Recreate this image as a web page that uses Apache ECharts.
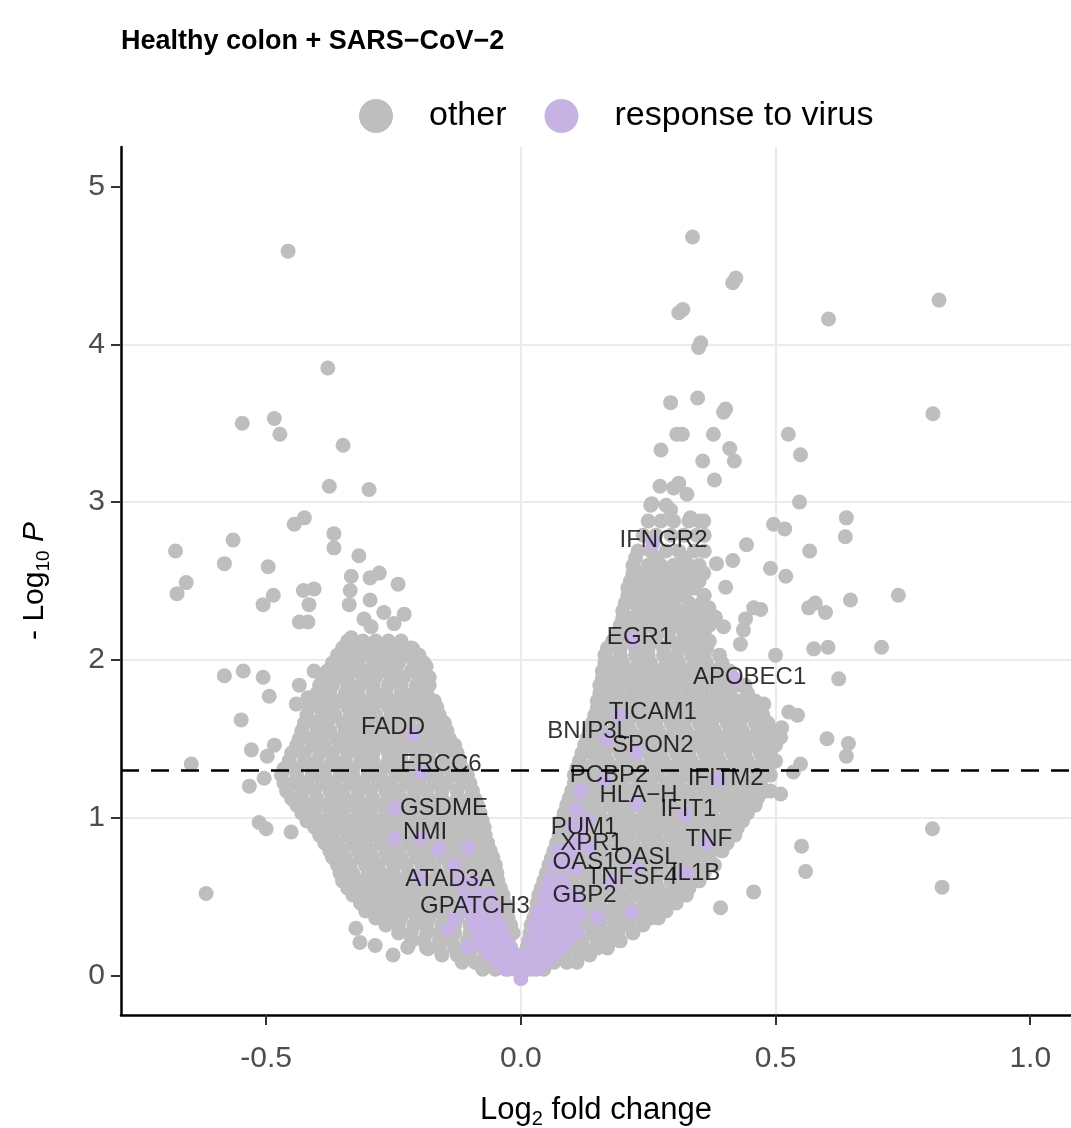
<!DOCTYPE html>
<html><head><meta charset="utf-8">
<script src="https://cdn.jsdelivr.net/npm/echarts@6/dist/echarts.min.js"></script>
<style>html,body{margin:0;padding:0;background:#fff}#c{width:1071px;height:1128px}</style>
</head><body><div id="c"></div>
<script>
// ---- data ----
const xTicks = [-0.5, 0, 0.5, 1.0];
const yTicks = [0, 1, 2, 3, 4, 5];
const pThreshold = 1.3;

// "other" genes: scattered points
const otherOutliers = [
 [-0.457,4.59],[-0.379,3.85],[-0.547,3.50],[-0.484,3.53],[-0.473,3.43],[-0.349,3.36],[-0.376,3.10],[-0.298,3.08],
 [-0.445,2.86],[-0.425,2.90],[-0.678,2.69],[-0.565,2.76],[-0.367,2.80],[-0.367,2.71],[-0.582,2.61],[-0.496,2.59],
 [-0.318,2.66],[-0.333,2.53],[-0.296,2.52],[-0.278,2.55],[-0.241,2.48],[-0.657,2.49],[-0.675,2.42],[-0.486,2.41],
 [-0.506,2.35],[-0.427,2.44],[-0.406,2.45],[-0.416,2.35],[-0.335,2.44],[-0.337,2.35],[-0.296,2.38],[-0.435,2.24],
 [-0.418,2.24],[-0.308,2.26],[-0.294,2.21],[-0.269,2.30],[-0.229,2.29],[-0.249,2.23],[-0.333,2.14],[-0.212,2.07],
 [-0.245,2.02],[-0.186,1.96],[-0.359,2.02],[-0.406,1.93],[-0.361,1.89],[-0.582,1.90],[-0.545,1.93],[-0.506,1.89],
 [-0.494,1.77],[-0.435,1.84],[-0.418,1.76],[-0.441,1.72],[-0.373,1.72],[-0.549,1.62],[-0.529,1.43],[-0.484,1.46],
 [-0.498,1.39],[-0.647,1.34],[-0.533,1.20],[-0.504,1.25],[-0.514,0.97],[-0.500,0.93],[-0.451,0.91],[-0.618,0.52],
 [-0.314,0.48],[-0.284,0.42],[-0.324,0.30],[-0.316,0.21],[-0.286,0.19],[-0.251,0.13],[-0.222,0.18],[-0.182,0.17],
 [0.337,4.68],[0.422,4.42],[0.416,4.39],[0.310,4.20],[0.318,4.22],[0.353,4.01],[0.349,3.98],[0.604,4.16],
 [0.821,4.28],[0.809,3.56],[0.294,3.63],[0.347,3.66],[0.402,3.59],[0.398,3.57],[0.306,3.43],[0.317,3.43],
 [0.378,3.43],[0.525,3.43],[0.275,3.33],[0.410,3.34],[0.419,3.26],[0.357,3.26],[0.549,3.30],[0.380,3.14],
 [0.273,3.10],[0.310,3.12],[0.326,3.05],[0.300,3.09],[0.547,3.00],[0.257,2.99],[0.294,2.95],[0.333,2.90],
 [0.359,2.88],[0.639,2.90],[0.637,2.78],[0.496,2.86],[0.518,2.83],[0.567,2.69],[0.443,2.73],[0.384,2.61],
 [0.416,2.63],[0.359,2.55],[0.490,2.58],[0.520,2.53],[0.741,2.41],[0.402,2.46],[0.647,2.38],[0.565,2.33],
 [0.578,2.36],[0.598,2.30],[0.457,2.33],[0.471,2.32],[0.369,2.33],[0.382,2.27],[0.398,2.21],[0.441,2.26],
 [0.437,2.19],[0.431,2.10],[0.575,2.07],[0.603,2.08],[0.500,2.03],[0.708,2.08],[0.624,1.88],[0.477,1.72],
 [0.526,1.67],[0.543,1.65],[0.512,1.57],[0.510,1.51],[0.601,1.50],[0.643,1.47],[0.639,1.39],[0.549,1.34],
 [0.535,1.29],[0.510,1.15],[0.490,1.17],[0.808,0.93],[0.551,0.82],[0.559,0.66],[0.827,0.56],[0.457,0.53],
 [0.392,0.43],[0.347,2.19],[0.327,2.10],[0.359,2.08]
];

// "other" genes: dense left arm, rows of [-log10 p, [log2 fc values]]
const otherLeftRows = [
 [2.12,[-0.34,-0.31,-0.285,-0.26,-0.235]],
 [2.075,[-0.35,-0.32,-0.295,-0.27,-0.245,-0.215]],
 [2.03,[-0.36,-0.335,-0.31,-0.28,-0.255,-0.23,-0.2]],
 [1.98,[-0.37,-0.345,-0.32,-0.29,-0.265,-0.24,-0.21,-0.19]],
 [1.93,[-0.38,-0.355,-0.325,-0.3,-0.27,-0.245,-0.215,-0.19]],
 [1.89,[-0.39,-0.365,-0.34,-0.31,-0.285,-0.255,-0.23,-0.2,-0.18]],
 [1.84,[-0.395,-0.37,-0.34,-0.315,-0.29,-0.26,-0.235,-0.205,-0.18]],
 [1.79,[-0.4,-0.375,-0.345,-0.32,-0.29,-0.265,-0.235,-0.21,-0.185]],
 [1.74,[-0.41,-0.385,-0.355,-0.33,-0.3,-0.275,-0.25,-0.22,-0.195,-0.17]],
 [1.70,[-0.415,-0.395,-0.37,-0.34,-0.315,-0.29,-0.26,-0.235,-0.21,-0.18,-0.165]],
 [1.65,[-0.42,-0.39,-0.365,-0.335,-0.31,-0.285,-0.255,-0.23,-0.2,-0.175,-0.16]],
 [1.60,[-0.425,-0.405,-0.38,-0.35,-0.325,-0.3,-0.27,-0.245,-0.22,-0.19,-0.17,-0.15]],
 [1.55,[-0.43,-0.4,-0.375,-0.345,-0.32,-0.29,-0.265,-0.24,-0.21,-0.185,-0.16,-0.145]],
 [1.50,[-0.435,-0.415,-0.39,-0.36,-0.335,-0.31,-0.28,-0.255,-0.23,-0.2,-0.175,-0.15,-0.14]],
 [1.46,[-0.44,-0.41,-0.385,-0.355,-0.33,-0.3,-0.275,-0.245,-0.22,-0.19,-0.165,-0.13]],
 [1.41,[-0.45,-0.425,-0.395,-0.37,-0.34,-0.315,-0.29,-0.26,-0.235,-0.205,-0.18,-0.15,-0.125]],
 [1.36,[-0.455,-0.425,-0.4,-0.37,-0.345,-0.315,-0.29,-0.26,-0.235,-0.205,-0.18,-0.15,-0.12]],
 [1.31,[-0.465,-0.44,-0.41,-0.385,-0.355,-0.33,-0.3,-0.275,-0.25,-0.22,-0.195,-0.165,-0.14,-0.115]],
 [1.27,[-0.47,-0.44,-0.41,-0.385,-0.355,-0.33,-0.3,-0.275,-0.245,-0.22,-0.19,-0.165,-0.135,-0.105]],
 [1.22,[-0.465,-0.445,-0.42,-0.39,-0.365,-0.335,-0.31,-0.28,-0.255,-0.225,-0.2,-0.17,-0.145,-0.115,-0.1]],
 [1.17,[-0.46,-0.43,-0.405,-0.375,-0.35,-0.32,-0.295,-0.265,-0.24,-0.21,-0.185,-0.155,-0.125,-0.095]],
 [1.12,[-0.45,-0.43,-0.4,-0.37,-0.345,-0.32,-0.29,-0.26,-0.235,-0.21,-0.18,-0.155,-0.125,-0.1,-0.09]],
 [1.08,[-0.44,-0.415,-0.385,-0.36,-0.33,-0.305,-0.275,-0.25,-0.22,-0.195,-0.165,-0.14,-0.11,-0.085]],
 [1.03,[-0.43,-0.405,-0.375,-0.35,-0.32,-0.295,-0.265,-0.24,-0.21,-0.185,-0.155,-0.13,-0.105,-0.08]],
 [0.98,[-0.42,-0.395,-0.365,-0.34,-0.31,-0.285,-0.255,-0.23,-0.2,-0.175,-0.145,-0.12,-0.095,-0.076]],
 [0.94,[-0.405,-0.38,-0.355,-0.325,-0.3,-0.27,-0.245,-0.215,-0.19,-0.16,-0.135,-0.11,-0.085,-0.072]],
 [0.89,[-0.395,-0.37,-0.34,-0.315,-0.285,-0.26,-0.235,-0.205,-0.18,-0.15,-0.125,-0.1,-0.07]],
 [0.84,[-0.385,-0.36,-0.33,-0.305,-0.275,-0.25,-0.22,-0.195,-0.17,-0.14,-0.115,-0.09,-0.065]],
 [0.79,[-0.375,-0.35,-0.32,-0.295,-0.265,-0.24,-0.21,-0.185,-0.155,-0.13,-0.105,-0.08,-0.06]],
 [0.75,[-0.37,-0.345,-0.315,-0.29,-0.26,-0.235,-0.205,-0.18,-0.15,-0.125,-0.1,-0.075,-0.055]],
 [0.70,[-0.36,-0.335,-0.305,-0.28,-0.25,-0.225,-0.195,-0.17,-0.14,-0.115,-0.09,-0.065,-0.05]],
 [0.65,[-0.355,-0.33,-0.3,-0.275,-0.25,-0.22,-0.195,-0.165,-0.14,-0.115,-0.085,-0.06,-0.047]],
 [0.60,[-0.35,-0.32,-0.295,-0.265,-0.24,-0.21,-0.185,-0.155,-0.13,-0.1,-0.075,-0.045]],
 [0.555,[-0.34,-0.31,-0.285,-0.255,-0.23,-0.2,-0.175,-0.145,-0.12,-0.09,-0.065,-0.04]],
 [0.51,[-0.33,-0.3,-0.275,-0.245,-0.22,-0.19,-0.165,-0.135,-0.11,-0.08,-0.055,-0.035]],
 [0.46,[-0.315,-0.29,-0.26,-0.235,-0.205,-0.18,-0.15,-0.125,-0.095,-0.07,-0.045,-0.032]],
 [0.41,[-0.305,-0.275,-0.25,-0.22,-0.195,-0.165,-0.14,-0.11,-0.085,-0.055,-0.03]],
 [0.365,[-0.285,-0.26,-0.235,-0.205,-0.18,-0.15,-0.125,-0.09,-0.06,-0.035,-0.025]],
 [0.32,[-0.265,-0.24,-0.21,-0.185,-0.155,-0.13,-0.1,-0.075,-0.045,-0.02]],
 [0.27,[-0.24,-0.215,-0.185,-0.16,-0.13,-0.1,-0.065,-0.04,-0.015]],
 [0.22,[-0.215,-0.19,-0.16,-0.135,-0.105,-0.08,-0.05,-0.025]],
 [0.175,[-0.185,-0.16,-0.13,-0.1,-0.075,-0.045,-0.02]],
 [0.13,[-0.155,-0.125,-0.1,-0.07,-0.045,-0.015]],
 [0.085,[-0.115,-0.09,-0.06,-0.035,-0.01]],
 [0.04,[-0.075,-0.05,-0.025]]
];

// "other" genes: dense right arm
const otherRightRows = [
 [2.98,[0.255,0.285]],
 [2.88,[0.25,0.275,0.3,0.33,0.35]],
 [2.79,[0.24,0.265,0.295,0.32,0.345,0.36]],
 [2.69,[0.23,0.255,0.285,0.31,0.34,0.36]],
 [2.645,[0.225,0.265,0.32]],
 [2.60,[0.22,0.25,0.275,0.3,0.33,0.35]],
 [2.55,[0.22,0.235,0.26,0.29,0.315,0.34]],
 [2.50,[0.215,0.245,0.27,0.3,0.325,0.35]],
 [2.455,[0.21,0.23,0.255,0.285,0.31,0.34]],
 [2.41,[0.21,0.24,0.265,0.29,0.32,0.36]],
 [2.36,[0.205,0.225,0.25,0.275,0.3,0.33,0.355]],
 [2.31,[0.2,0.23,0.26,0.285,0.31,0.34,0.37]],
 [2.265,[0.2,0.21,0.24,0.27,0.295,0.32,0.35]],
 [2.22,[0.195,0.225,0.25,0.28,0.305,0.335,0.37]],
 [2.17,[0.19,0.21,0.235,0.265,0.29,0.32,0.345,0.36]],
 [2.12,[0.18,0.21,0.24,0.265,0.295,0.32,0.35,0.37]],
 [2.075,[0.17,0.195,0.225,0.25,0.28,0.31,0.335,0.365]],
 [2.03,[0.165,0.195,0.225,0.25,0.28,0.305,0.335,0.36,0.39]],
 [1.98,[0.165,0.175,0.2,0.23,0.255,0.285,0.31,0.34,0.365,0.395]],
 [1.93,[0.16,0.185,0.215,0.24,0.27,0.295,0.325,0.35,0.38,0.41]],
 [1.885,[0.16,0.17,0.195,0.225,0.25,0.28,0.305,0.335,0.36,0.39,0.415]],
 [1.84,[0.155,0.18,0.21,0.235,0.265,0.29,0.32,0.345,0.375,0.4,0.43,0.44]],
 [1.79,[0.155,0.165,0.19,0.22,0.245,0.275,0.3,0.33,0.355,0.385,0.41,0.445]],
 [1.74,[0.15,0.175,0.205,0.23,0.26,0.285,0.315,0.34,0.37,0.395,0.425,0.45,0.46]],
 [1.695,[0.15,0.16,0.19,0.215,0.24,0.27,0.295,0.325,0.35,0.38,0.405,0.435,0.465]],
 [1.65,[0.145,0.17,0.2,0.225,0.255,0.28,0.31,0.335,0.365,0.39,0.42,0.445,0.475]],
 [1.60,[0.14,0.155,0.185,0.21,0.24,0.265,0.295,0.32,0.35,0.375,0.405,0.43,0.46,0.485]],
 [1.55,[0.135,0.16,0.19,0.215,0.245,0.27,0.3,0.325,0.355,0.38,0.41,0.435,0.465,0.49]],
 [1.505,[0.13,0.145,0.175,0.2,0.23,0.255,0.285,0.31,0.34,0.365,0.395,0.42,0.45,0.475,0.495]],
 [1.46,[0.125,0.155,0.18,0.21,0.235,0.265,0.29,0.32,0.345,0.375,0.4,0.43,0.455,0.48,0.5]],
 [1.41,[0.12,0.14,0.165,0.195,0.22,0.25,0.275,0.305,0.33,0.36,0.385,0.415,0.44,0.47,0.49]],
 [1.36,[0.115,0.145,0.17,0.2,0.225,0.255,0.28,0.31,0.335,0.365,0.39,0.42,0.445,0.475,0.5]],
 [1.315,[0.11,0.13,0.155,0.185,0.21,0.24,0.265,0.295,0.32,0.35,0.375,0.405,0.43,0.46,0.485]],
 [1.27,[0.105,0.135,0.16,0.19,0.215,0.245,0.27,0.3,0.325,0.355,0.38,0.41,0.435,0.465,0.49]],
 [1.22,[0.105,0.12,0.145,0.175,0.2,0.23,0.255,0.285,0.31,0.34,0.365,0.395,0.42,0.45,0.47]],
 [1.17,[0.1,0.125,0.155,0.18,0.21,0.235,0.265,0.29,0.32,0.345,0.375,0.4,0.43,0.455,0.48]],
 [1.125,[0.095,0.11,0.14,0.165,0.195,0.22,0.25,0.275,0.305,0.33,0.36,0.385,0.415,0.44,0.465]],
 [1.08,[0.09,0.12,0.145,0.175,0.2,0.23,0.255,0.285,0.31,0.34,0.365,0.395,0.42,0.45,0.46]],
 [1.03,[0.085,0.1,0.13,0.155,0.185,0.21,0.24,0.265,0.295,0.32,0.35,0.375,0.405,0.43,0.445]],
 [0.98,[0.08,0.11,0.135,0.165,0.19,0.22,0.245,0.275,0.3,0.33,0.355,0.385,0.41,0.435]],
 [0.935,[0.08,0.095,0.12,0.15,0.175,0.205,0.23,0.26,0.285,0.315,0.34,0.37,0.395,0.425]],
 [0.89,[0.075,0.1,0.13,0.155,0.185,0.21,0.24,0.265,0.295,0.32,0.35,0.375,0.405,0.42]],
 [0.84,[0.07,0.085,0.11,0.14,0.165,0.195,0.22,0.25,0.275,0.305,0.33,0.36,0.385,0.405]],
 [0.79,[0.065,0.095,0.12,0.15,0.175,0.205,0.23,0.26,0.285,0.315,0.34,0.37,0.395]],
 [0.745,[0.06,0.075,0.1,0.13,0.155,0.185,0.21,0.24,0.265,0.295,0.32,0.35,0.37]],
 [0.70,[0.055,0.085,0.11,0.14,0.165,0.195,0.22,0.25,0.275,0.305,0.33,0.36,0.38]],
 [0.65,[0.05,0.065,0.09,0.12,0.145,0.175,0.2,0.23,0.255,0.285,0.31,0.34,0.36]],
 [0.60,[0.045,0.075,0.1,0.13,0.155,0.185,0.21,0.24,0.265,0.295,0.32,0.35]],
 [0.555,[0.04,0.055,0.085,0.11,0.135,0.165,0.19,0.22,0.245,0.27,0.3,0.33]],
 [0.51,[0.035,0.065,0.09,0.12,0.145,0.175,0.2,0.23,0.255,0.285,0.31,0.325]],
 [0.46,[0.032,0.05,0.075,0.1,0.13,0.155,0.185,0.21,0.24,0.265,0.29,0.305]],
 [0.41,[0.03,0.055,0.085,0.11,0.14,0.165,0.195,0.22,0.25,0.275,0.285]],
 [0.365,[0.025,0.04,0.065,0.09,0.12,0.145,0.175,0.2,0.23,0.255,0.27]],
 [0.32,[0.02,0.045,0.075,0.1,0.13,0.155,0.185,0.21,0.24]],
 [0.27,[0.018,0.03,0.055,0.085,0.11,0.14,0.165,0.19,0.22]],
 [0.22,[0.015,0.04,0.065,0.095,0.12,0.15,0.175,0.195]],
 [0.175,[0.012,0.025,0.05,0.075,0.1,0.125,0.15,0.17]],
 [0.13,[0.01,0.03,0.06,0.085,0.115,0.135]],
 [0.085,[0.005,0.015,0.04,0.065,0.09,0.11]],
 [0.04,[0.0,0.02,0.045]]
];

// "response to virus" genes without a label
const virusPoints = [
 [0,-0.02],[-0.03,0.04],[-0.01,0.04],[0.01,0.04],[0.03,0.04],
 [-0.045,0.085],[-0.02,0.085],[0.005,0.085],[0.025,0.085],[0.05,0.085],
 [-0.06,0.13],[-0.035,0.13],[-0.01,0.13],[0.015,0.13],[0.04,0.13],[0.06,0.13],
 [-0.07,0.175],[-0.045,0.175],[-0.02,0.175],[0.03,0.175],[0.055,0.175],[0.08,0.175],
 [-0.08,0.22],[-0.055,0.22],[-0.03,0.22],[0.02,0.22],[0.045,0.22],[0.07,0.22],[0.09,0.22],
 [-0.085,0.27],[-0.06,0.27],[-0.035,0.27],[0.035,0.27],[0.06,0.27],[0.085,0.27],[0.11,0.27],
 [-0.09,0.32],[-0.065,0.32],[-0.04,0.32],[0.025,0.32],[0.05,0.32],[0.08,0.32],[0.1,0.32],
 [-0.095,0.365],[-0.07,0.365],[0.04,0.365],[0.065,0.365],[0.095,0.365],
 [-0.1,0.41],[-0.075,0.41],[-0.05,0.41],[0.035,0.41],[0.06,0.41],[0.09,0.41],
 [-0.105,0.46],[-0.085,0.46],[0.05,0.46],[0.075,0.46],[0.1,0.46],
 [-0.11,0.51],[-0.08,0.51],[-0.06,0.51],[0.045,0.51],[0.07,0.51],[0.095,0.51],
 [0.06,0.555],[0.085,0.555],
 [-0.12,0.60],[-0.09,0.60],[0.055,0.60],[0.08,0.60],
 [-0.13,0.70],[0.065,0.70],[0.09,0.70],
 [-0.104,0.81],[-0.161,0.80],[-0.196,0.87],[0.075,0.79],[0.10,0.79],
 [0.151,0.37],[0.118,0.39],[0.216,0.40],[0.059,0.22],[0.118,1.17],[0.131,0.98],[0.112,0.86],
 [0.10,0.95],[0.11,1.05],
 [-0.143,0.30],[-0.104,0.18]
];

// labelled "response to virus" genes
const geneNames = ['FADD','ERCC6','GSDME','NMI','ATAD3A','GPATCH3','IFNGR2','EGR1','APOBEC1','TICAM1','BNIP3L','SPON2',
  'PCBP2','IFITM2','HLA\u2212H','IFIT1','PUM1','TNF','XPR1','OAS1','OASL','TNFSF4','IL1B','GBP2'];
const geneFC   = [-0.21,-0.196,-0.249,-0.249,-0.20,-0.13,0.259,0.220,0.420,0.192,0.169,0.227,
  0.165,0.388,0.227,0.323,0.114,0.364,0.134,0.106,0.227,0.178,0.323,0.110];
const geneP    = [1.53,1.29,1.06,0.87,0.62,0.36,2.74,2.13,1.88,1.65,1.50,1.41,
  1.24,1.24,1.10,1.02,0.90,0.84,0.81,0.68,0.68,0.60,0.65,0.48];
// where each gene's label text sits (data units)
const labelFC  = [-0.251,-0.157,-0.151,-0.188,-0.139,-0.090,0.280,0.233,0.449,0.259,0.133,0.259,
  0.173,0.402,0.231,0.329,0.124,0.369,0.139,0.125,0.245,0.218,0.343,0.125];
const labelP   = [1.57,1.34,1.06,0.91,0.61,0.44,2.76,2.14,1.89,1.67,1.55,1.46,
  1.27,1.25,1.14,1.05,0.94,0.86,0.84,0.72,0.75,0.62,0.65,0.51];

// ---- build series data from the arrays ----
const rowsToPoints = rows => rows.flatMap(([p, fcs]) => fcs.map(fc => [fc, p]));
const otherData = otherOutliers.concat(rowsToPoints(otherLeftRows), rowsToPoints(otherRightRows));
const virusData = virusPoints.concat(geneNames.map((n, i) => [geneFC[i], geneP[i]]));
const labelData = geneNames.map((n, i) => ({ name: n, value: [labelFC[i], labelP[i]] }));

const FONT = '"Liberation Sans", Arial, Helvetica, sans-serif';
const GREY = '#BEBEBE';
const PURPLE = '#C6B3E3';
const fmt = v => (v < 0 ? '-' : '') + Math.abs(v).toFixed(1);

const chart = echarts.init(document.getElementById('c'), null, { renderer: 'canvas' });
chart.setOption({
  animation: false,
  backgroundColor: '#ffffff',
  textStyle: { fontFamily: FONT },
  title: {
    text: 'Healthy colon + SARS\u2212CoV\u22122',
    left: 116, top: 23,
    textStyle: { fontFamily: FONT, fontSize: 27, fontWeight: 'bold', color: '#000' }
  },
  legend: {
    data: ['other', 'response to virus'],
    left: 354, top: 94,
    icon: 'circle', itemWidth: 34, itemHeight: 34, itemGap: 38,
    textStyle: { fontFamily: FONT, fontSize: 34, color: '#000', padding: [0, 0, 0, 31] }
  },
  grid: { left: 121, right: 0, top: 147, bottom: 113, outerBoundsMode: 'none', containLabel: false },
  xAxis: {
    type: 'value', min: -0.785, max: 1.08, splitNumber: 4,
    name: 'Log{sub|2} fold change', nameLocation: 'middle', nameGap: 76,
    nameTextStyle: { fontFamily: FONT, fontSize: 31, color: '#000', lineHeight: 38,
      rich: { sub: { fontFamily: FONT, fontSize: 20, lineHeight: 20, verticalAlign: 'bottom', color: '#000' } } },
    axisLine: { show: true, onZero: false, lineStyle: { color: '#000', width: 2.5 } },
    axisTick: { show: true, length: 10, customValues: xTicks, lineStyle: { color: '#333', width: 2 } },
    axisLabel: { customValues: xTicks, formatter: fmt, fontFamily: FONT, fontSize: 30, color: '#4D4D4D', margin: 29 },
    splitLine: { show: true, showMinLine: false, showMaxLine: false, lineStyle: { color: '#EBEBEB', width: 2 } }
  },
  yAxis: {
    type: 'value', min: -0.25, max: 5.25, splitNumber: 5,
    name: '- Log{sub|10} {it|P}', nameLocation: 'middle', nameGap: 68,
    nameTextStyle: { fontFamily: FONT, fontSize: 30, color: '#000', lineHeight: 37,
      rich: { sub: { fontFamily: FONT, fontSize: 19, lineHeight: 19, verticalAlign: 'bottom', color: '#000' },
              it: { fontFamily: FONT, fontSize: 30, fontStyle: 'italic', color: '#000', lineHeight: 37 } } },
    axisLine: { show: true, onZero: false, lineStyle: { color: '#000', width: 2.5 } },
    axisTick: { show: true, length: 10, customValues: yTicks, lineStyle: { color: '#333', width: 2 } },
    axisLabel: { customValues: yTicks, formatter: v => String(v), fontFamily: FONT, fontSize: 30, color: '#4D4D4D', margin: 16 },
    splitLine: { show: true, showMinLine: false, showMaxLine: false, lineStyle: { color: '#EBEBEB', width: 2 } }
  },
  series: [
    { name: 'other', type: 'scatter', data: otherData, symbolSize: 15, z: 2, silent: true,
      itemStyle: { color: GREY, opacity: 1 } },
    { name: 'response to virus', type: 'scatter', data: virusData, symbolSize: 15, z: 3, silent: true,
      itemStyle: { color: PURPLE, opacity: 1 },
      markLine: { silent: true, symbol: ['none', 'none'], label: { show: false },
        lineStyle: { color: '#000', width: 2.5, type: [18, 12] },
        data: [{ yAxis: pThreshold }] } },
    { name: 'labels', type: 'scatter', data: labelData, symbol: 'circle', symbolSize: 1, z: 5, silent: true,
      itemStyle: { color: 'rgba(0,0,0,0)' },
      label: { show: true, position: 'inside', formatter: '{b}', fontFamily: FONT, fontSize: 24, color: '#000' } }
  ]
});
</script>
</body></html>
